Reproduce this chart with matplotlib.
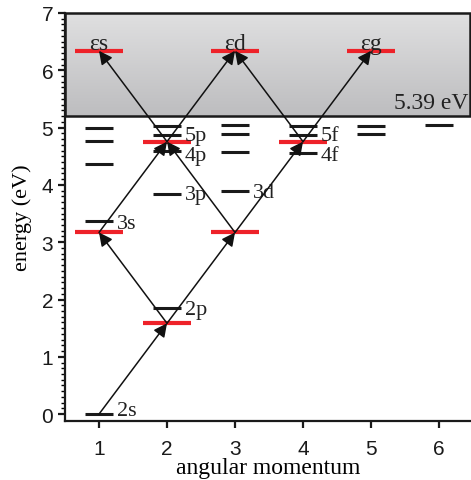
import numpy as np
import matplotlib
matplotlib.use("Agg")
import matplotlib.pyplot as plt
from matplotlib.colors import LinearSegmentedColormap
from matplotlib.patches import Rectangle

SERIF = ["Liberation Serif", "DejaVu Serif"]
SANS = ["Liberation Sans", "DejaVu Sans"]

# bound levels (angular momentum column, energy in eV)
level_l = [1, 1, 1, 1, 1, 2, 2, 2, 2, 2, 3, 3, 3, 3, 4, 4, 4, 5, 5, 6]
level_E = [0.0, 3.37, 4.36, 4.77, 4.99,
           1.85, 3.84, 4.60, 4.87, 5.03,
           3.89, 4.57, 4.88, 5.04,
           4.56, 4.87, 5.03,
           4.88, 5.03,
           5.05]

# photon-dressed levels (red)
photon_l = [2, 1, 3, 2, 4, 1, 3, 5]
photon_E = [1.585, 3.17, 3.17, 4.755, 4.755, 6.34, 6.34, 6.34]

# transitions (l0, E0) -> (l1, E1)
trans_from = [(1, 0.0), (2, 1.585), (2, 1.585), (1, 3.17), (3, 3.17),
              (3, 3.17), (2, 4.755), (2, 4.755), (4, 4.755), (4, 4.755)]
trans_to = [(2, 1.585), (1, 3.17), (3, 3.17), (2, 4.755), (2, 4.755),
            (4, 4.755), (1, 6.34), (3, 6.34), (3, 6.34), (5, 6.34)]

# state labels
label_text = ["2s", "2p", "3s", "3p", "3d", "4p", "5p", "4f", "5f"]
label_l = [1, 2, 1, 2, 3, 2, 2, 4, 4]
label_E = [0.07, 1.82, 3.33, 3.84, 3.87, 4.52, 4.86, 4.52, 4.86]

cont_text = ["εs", "εd", "εg"]
cont_l = [1, 3, 5]

ionization = 5.2
xlim = (0.5, 6.47)
ylim = (-0.12, 7.0)

fig = plt.figure(figsize=(4.71, 4.81), dpi=100)
ax = fig.add_axes([65 / 471, 59 / 481, 406 / 471, 408 / 481])
ax.set_xlim(*xlim)
ax.set_ylim(*ylim)

# continuum box with gradient
cmap = LinearSegmentedColormap.from_list("cont", ["#bdbdbf", "#e0e0e1"])
grad = np.linspace(0, 1, 256).reshape(-1, 1)
ax.imshow(grad, cmap=cmap, aspect="auto", origin="lower",
          extent=(xlim[0], xlim[1], ionization, ylim[1]), zorder=0)
ax.add_patch(Rectangle((xlim[0], ionization), xlim[1] - xlim[0] - 0.01,
                       ylim[1] - ionization, fill=False, ec="#1a1a1a",
                       lw=1.8, zorder=1, clip_on=False))
ax.text(xlim[1] - 0.04, ionization + 0.05, "5.39 eV", ha="right", va="bottom",
        fontsize=17, family=SERIF, color="#222222")

for l, E in zip(level_l, level_E):
    ax.plot([l - 0.21, l + 0.21], [E, E], color="#1a1a1a", lw=2.2,
            solid_capstyle="butt", zorder=2)

for l, E in zip(photon_l, photon_E):
    ax.plot([l - 0.35, l + 0.35], [E, E], color="#ee2229", lw=3.0,
            solid_capstyle="butt", zorder=3)

for (l0, E0), (l1, E1) in zip(trans_from, trans_to):
    ax.annotate("", xy=(l1, E1), xytext=(l0, E0),
                arrowprops=dict(arrowstyle="-|>", color="#111111", lw=1.1,
                                mutation_scale=20, shrinkA=0, shrinkB=0),
                zorder=4)

for t, l, E in zip(label_text, label_l, label_E):
    ax.text(l + 0.26, E, t, ha="left", va="center", fontsize=16,
            family=SERIF, color="#222222")

for t, l in zip(cont_text, cont_l):
    ax.text(l, 6.37, t, ha="center", va="baseline", fontsize=17,
            family=SERIF, color="#222222")

for s in ["top", "right"]:
    ax.spines[s].set_visible(False)
for s in ["left", "bottom"]:
    ax.spines[s].set_linewidth(1.6)
    ax.spines[s].set_color("#1a1a1a")

ax.set_xticks([1, 2, 3, 4, 5, 6])
ax.set_yticks([0, 1, 2, 3, 4, 5, 6, 7])
ax.set_yticks(np.arange(0, 7.01, 0.1), minor=True)
ax.tick_params(axis="both", which="major", direction="out", length=5,
               width=1.6, labelsize=15, colors="#1a1a1a")
ax.tick_params(axis="x", which="major", pad=8)
ax.tick_params(axis="y", which="minor", direction="out", length=3, width=1.0)
for lab in ax.get_xticklabels() + ax.get_yticklabels():
    lab.set_family(SANS)

ax.set_xlabel("angular momentum", fontsize=17, family=SERIF, labelpad=-1)
ax.set_ylabel("energy (eV)", fontsize=16, family=SERIF, labelpad=7)

fig.savefig("out.png", dpi=100)
